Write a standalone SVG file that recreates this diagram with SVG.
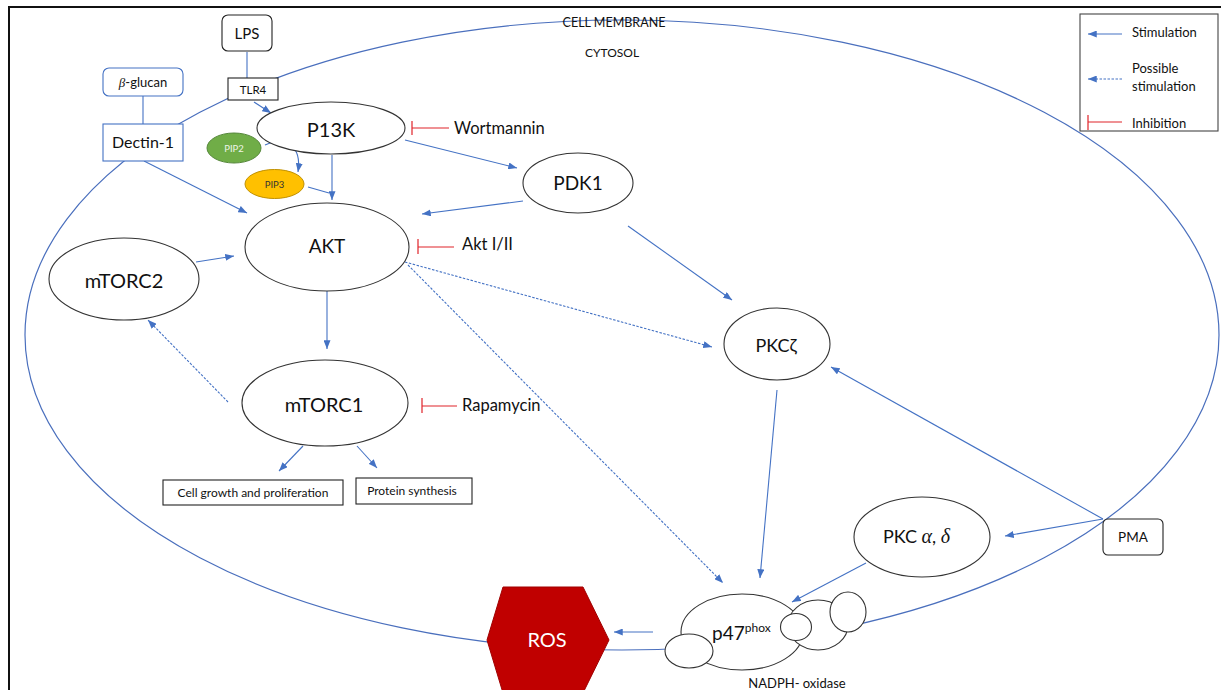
<svg xmlns="http://www.w3.org/2000/svg" width="1221" height="690" viewBox="0 0 1221 690">
<defs>
<marker id="arr" viewBox="0 0 10 8" refX="10" refY="4" markerWidth="9" markerHeight="7" markerUnits="userSpaceOnUse" orient="auto">
<path d="M0,0 L10,4 L0,8 Z" fill="#4472c4"/>
</marker>
</defs>
<style>
text{font-family:Lato,"Liberation Sans",sans-serif;fill:#111}
.c{text-anchor:middle}
.node{fill:#fff;stroke:#333;stroke-width:1.1}
.box{fill:#fff;stroke:#222;stroke-width:1.1}
.bbox{fill:#fff;stroke:#4472c4;stroke-width:1.1}
.s{stroke:#4472c4;stroke-width:1.1;fill:none;marker-end:url(#arr)}
.d{stroke:#4472c4;stroke-width:1.1;fill:none;stroke-dasharray:2.5 1.5;marker-end:url(#arr)}
.ln{stroke:#4472c4;stroke-width:1.1;fill:none}
.inh{stroke:#e0242a;stroke-width:1.2;fill:none}
.math{font-family:"Liberation Serif","DejaVu Serif",serif;font-style:italic}
</style>
<rect x="0" y="0" width="1221" height="690" fill="#fff"/>
<path d="M9,690 L9,7 L1221,7" fill="none" stroke="#111" stroke-width="2"/>

<g id="membrane">
<ellipse cx="622" cy="335" rx="597" ry="315" fill="none" stroke="#4a6fbd" stroke-width="1.2"/>
<text class="c" x="614" y="27" font-size="12.5">CELL MEMBRANE</text>
<text class="c" x="612" y="57" font-size="12">CYTOSOL</text>
</g>

<g id="connectors">
<path class="ln" d="M247,52 L247,78"/>
<path class="ln" d="M143,96 L143,124"/>
<path class="s" d="M254,102 L271,113"/>
<path class="s" d="M332,155 L332,200"/>
<path class="ln" d="M308,187 L329,193"/>
<path class="s" d="M265,145 C285,136 302,145 298,172"/>
<path class="s" d="M144,161 L247,213"/>
<path class="s" d="M405,140 L517,168"/>
<path class="s" d="M523,201 L422,214"/>
<path class="s" d="M628,226 L732,300"/>
<path class="s" d="M196,262 L234,256"/>
<path class="s" d="M327,291 L327,349"/>
<path class="s" d="M303,446 L279,471"/>
<path class="s" d="M357,446 L377,468"/>
<path class="s" d="M777,390 L760,578"/>
<path class="s" d="M1103,519 L831,367"/>
<path class="s" d="M1103,519 L1005,536"/>
<path class="s" d="M866,563 L792,602"/>
<path class="s" d="M653,632 L614,632"/>
<path class="d" d="M405,262 L712,347"/>
<path class="d" d="M408,265 L723,583"/>
<path class="d" d="M228,402 L148,320"/>
<path class="inh" d="M412,121 L412,135 M412,128 L449,128"/>
<path class="inh" d="M418,239 L418,254 M418,247 L454,247"/>
<path class="inh" d="M422,398 L422,413 M422,406 L457,406"/>
</g>

<g id="lps">
<rect class="box" x="222" y="15" width="50" height="36" rx="6"/>
<text class="c" x="247" y="39" font-size="15">LPS</text>
</g>
<g id="tlr4">
<rect class="box" x="228" y="78" width="50" height="22"/>
<text class="c" x="253" y="94" font-size="11.5">TLR4</text>
</g>
<g id="bglucan">
<rect class="bbox" x="103" y="68" width="80" height="28" rx="6"/>
<text class="c" x="143" y="87" font-size="13"><tspan class="math">β</tspan>-glucan</text>
</g>
<g id="dectin1">
<rect class="bbox" x="103" y="124" width="80" height="37"/>
<text class="c" x="143" y="148" font-size="16">Dectin-1</text>
</g>
<g id="p13k">
<ellipse class="node" cx="331" cy="128" rx="74" ry="26"/>
<text class="c" x="331" y="137" font-size="20">P13K</text>
</g>
<g id="wortmannin"><text x="454" y="134" font-size="16.5">Wortmannin</text></g>
<g id="pip2">
<ellipse cx="234" cy="148" rx="27" ry="15" fill="#70ad47" stroke="#55873a"/>
<text class="c" x="234" y="152" font-size="9.5" style="fill:#eef5e8">PIP2</text>
</g>
<g id="pip3">
<ellipse cx="274.5" cy="184" rx="29.5" ry="14.5" fill="#ffc000" stroke="#c09000"/>
<text class="c" x="274.5" y="188" font-size="9.5" style="fill:#333">PIP3</text>
</g>
<g id="pdk1">
<ellipse class="node" cx="578" cy="183" rx="55" ry="30"/>
<text class="c" x="578" y="190" font-size="19">PDK1</text>
</g>
<g id="akt">
<ellipse class="node" cx="327" cy="247" rx="82" ry="44"/>
<text class="c" x="327" y="253" font-size="19">AKT</text>
</g>
<g id="aktinh"><text x="462" y="250" font-size="16.5">Akt I/II</text></g>
<g id="mtorc2">
<ellipse class="node" cx="124" cy="279" rx="75" ry="41"/>
<text class="c" x="124" y="288" font-size="20">mTORC2</text>
</g>
<g id="mtorc1">
<ellipse class="node" cx="325" cy="403" rx="83" ry="43"/>
<text class="c" x="324" y="412" font-size="20">mTORC1</text>
</g>
<g id="rapamycin"><text x="462" y="411" font-size="16.5">Rapamycin</text></g>
<g id="cellgrowth">
<rect class="box" x="163" y="480" width="180" height="25"/>
<text class="c" x="253" y="497" font-size="12">Cell growth and proliferation</text>
</g>
<g id="protein">
<rect class="box" x="356" y="478" width="116" height="26"/>
<text class="c" x="412" y="495" font-size="12">Protein synthesis</text>
</g>
<g id="pkcz">
<ellipse class="node" cx="777" cy="344" rx="53" ry="36"/>
<text class="c" x="776" y="352" font-size="18">PKCζ</text>
</g>
<g id="pkcad">
<ellipse class="node" cx="922" cy="537" rx="68" ry="40"/>
<text x="883" y="543" font-size="18">PKC <tspan class="math" font-size="20">α</tspan>, <tspan class="math" font-size="20">δ</tspan></text>
</g>
<g id="pma">
<rect class="box" x="1103" y="519" width="60" height="36" rx="5"/>
<text class="c" x="1133" y="542" font-size="13.5">PMA</text>
</g>
<g id="ros">
<polygon points="503,587 583,587 609,640 583,693 503,693 487,640" fill="#c00000" stroke="#a00000"/>
<text class="c" x="547" y="647" font-size="20" style="fill:#fff">ROS</text>
</g>
<g id="nadph">
<ellipse class="node" cx="742" cy="632" rx="61" ry="38"/>
<ellipse class="node" cx="818" cy="625" rx="30" ry="25"/>
<ellipse class="node" cx="796" cy="627" rx="15.5" ry="13.5"/>
<ellipse class="node" cx="848" cy="612" rx="18" ry="20"/>
<ellipse class="node" cx="689" cy="651" rx="24" ry="17"/>
<text x="712" y="640" font-size="19">p47<tspan font-size="12" dy="-8">phox</tspan></text>
<text class="c" x="797" y="688" font-size="13">NADPH- oxidase</text>
</g>
<g id="legend">
<rect x="1080" y="14" width="138" height="117" fill="#fff" stroke="#444" stroke-width="1.1"/>
<path class="s" d="M1122,34 L1088,34"/>
<text x="1132" y="37" font-size="13">Stimulation</text>
<path class="d" d="M1122,79 L1088,79"/>
<text x="1132" y="73" font-size="13">Possible</text>
<text x="1132" y="91" font-size="13">stimulation</text>
<path class="inh" d="M1088,115 L1088,130 M1088,122 L1122,122"/>
<text x="1132" y="128" font-size="13">Inhibition</text>
</g>
</svg>
